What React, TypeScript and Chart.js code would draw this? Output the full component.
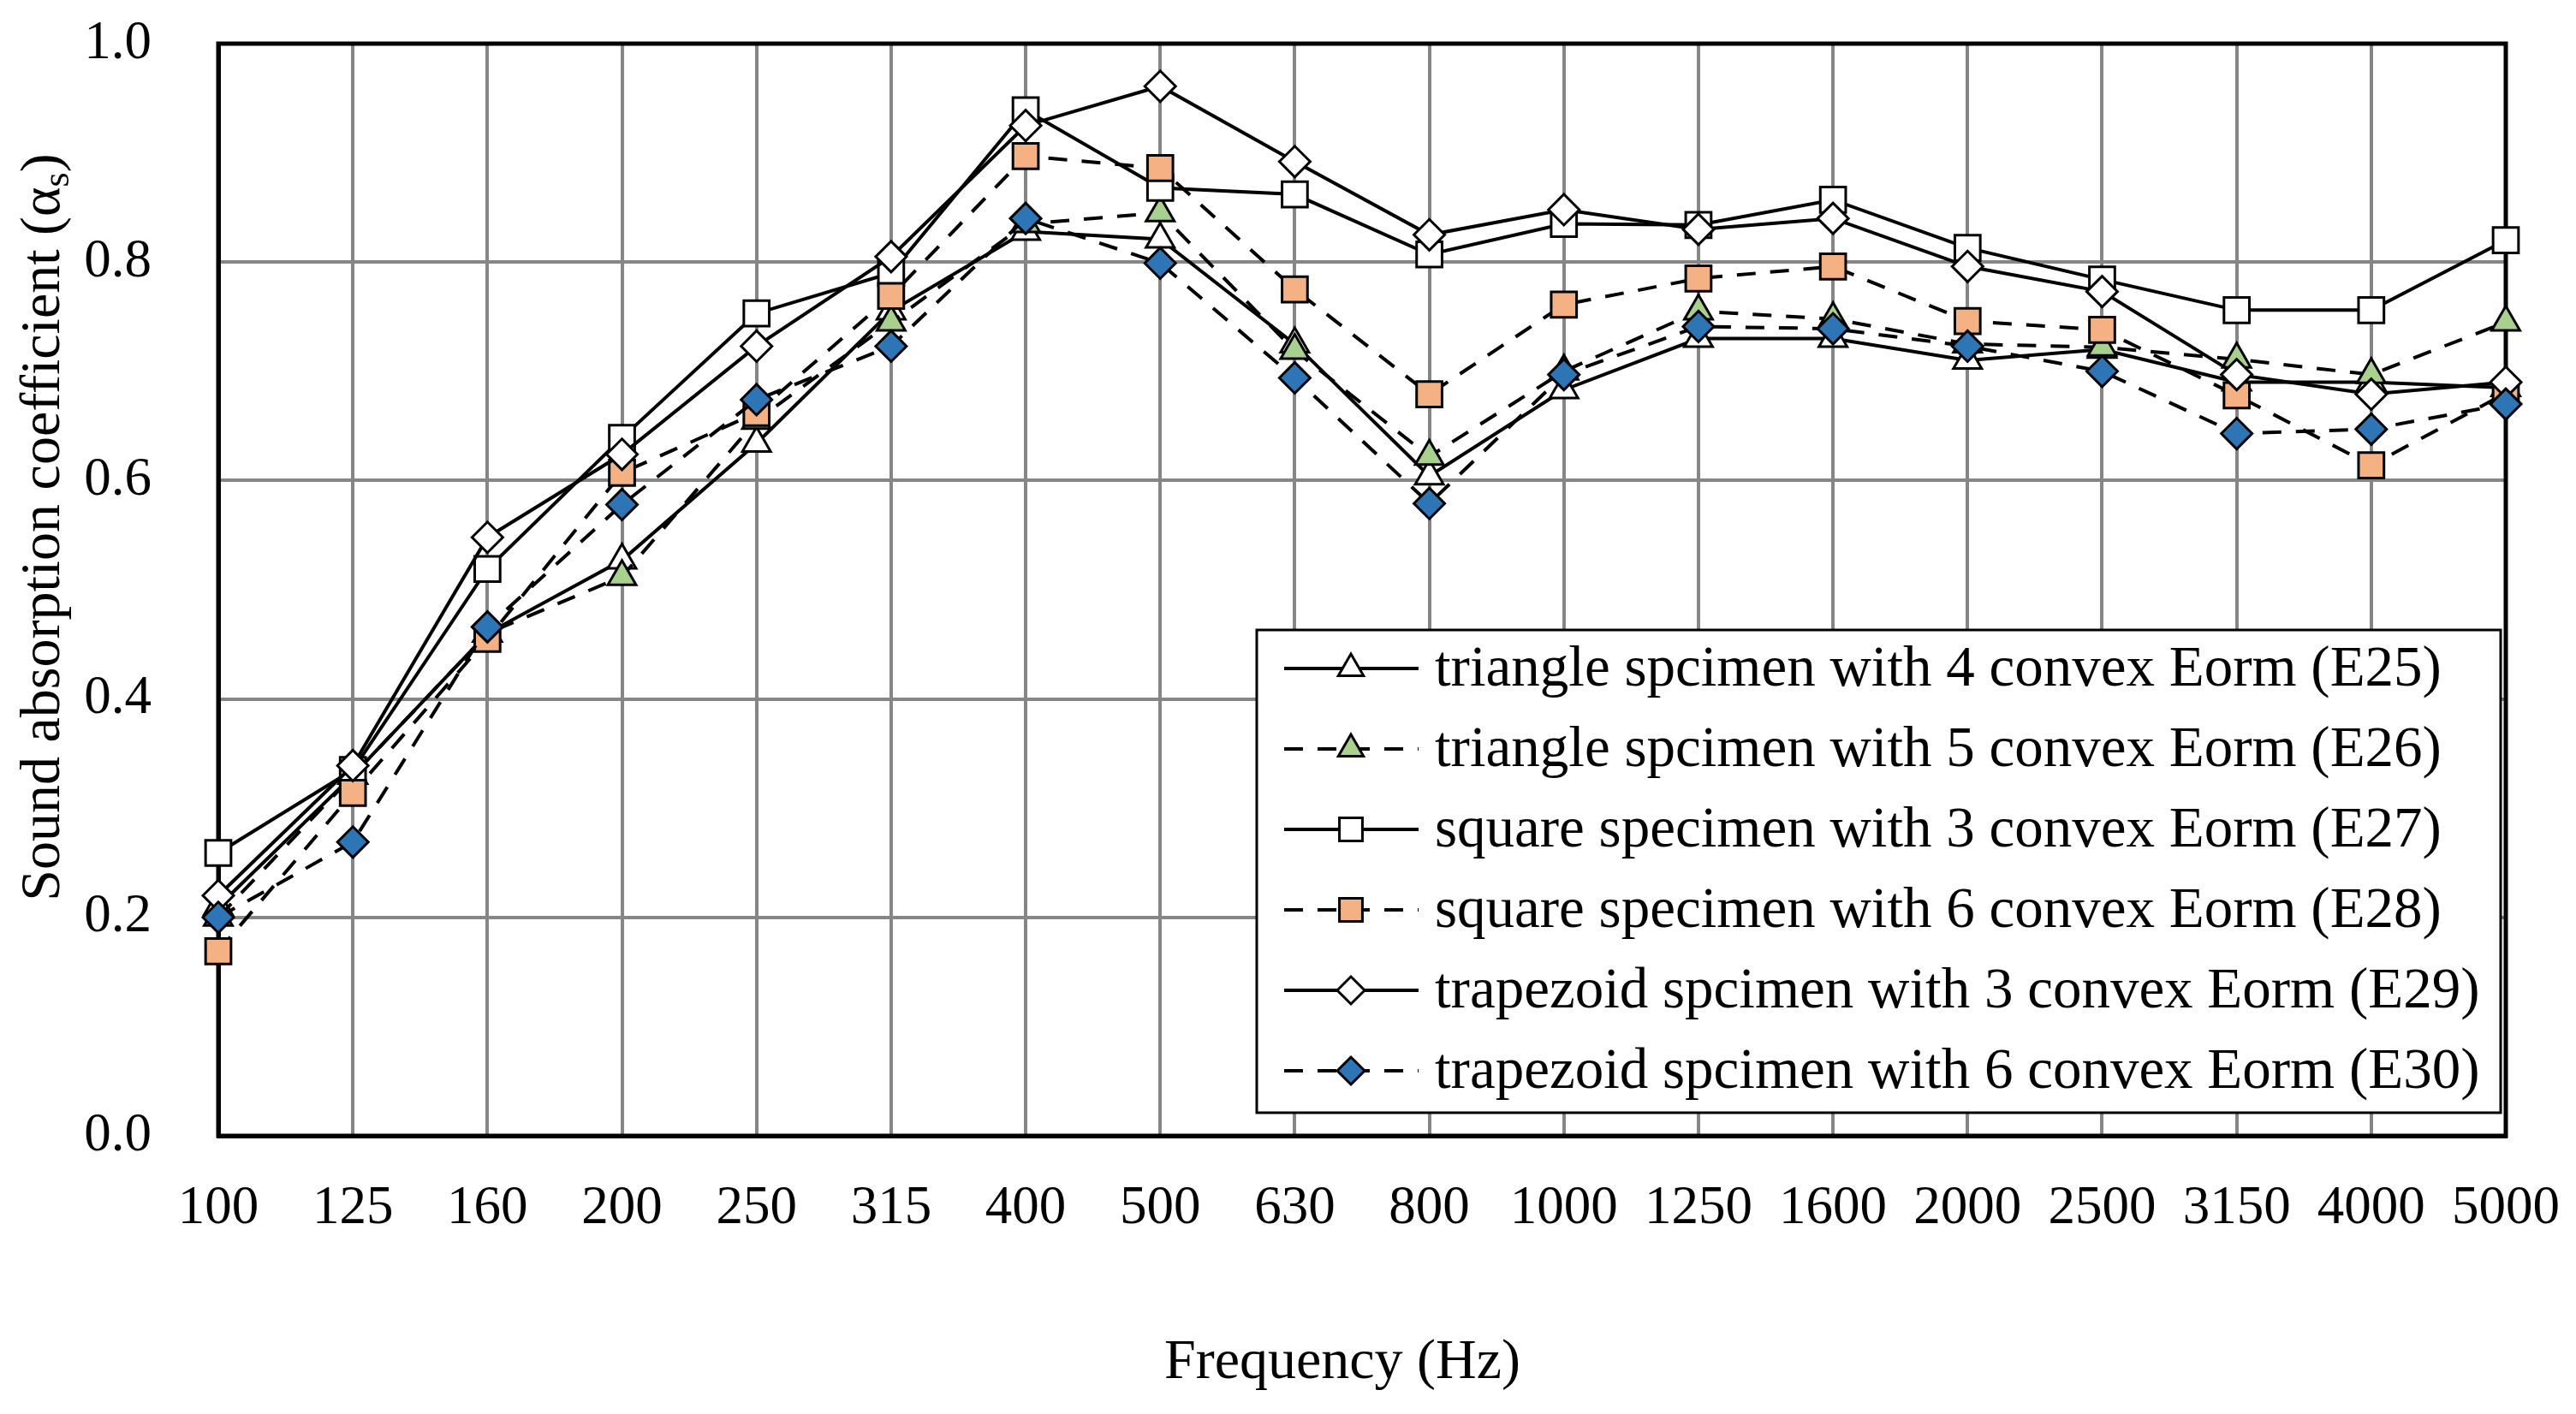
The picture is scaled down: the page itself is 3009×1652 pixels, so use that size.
import { useEffect, useRef } from "react"
import { Chart, registerables } from "chart.js"

Chart.register(...registerables)

const FONT = "'Liberation Serif', 'Times New Roman', serif"

// 1/3 octave centre frequencies
const frequencies = ["100", "125", "160", "200", "250", "315", "400", "500", "630", "800", "1000", "1250", "1600", "2000", "2500", "3150", "4000", "5000"]

// sound absorption coefficient per specimen
const e25 = [0.21, 0.33, 0.46, 0.527, 0.634, 0.755, 0.828, 0.821, 0.725, 0.604, 0.683, 0.73, 0.73, 0.71, 0.72, 0.69, 0.69, 0.685]
const e26 = [0.2, 0.33, 0.46, 0.512, 0.655, 0.745, 0.835, 0.845, 0.719, 0.622, 0.7, 0.755, 0.748, 0.725, 0.722, 0.711, 0.697, 0.745]
const e27 = [0.259, 0.335, 0.519, 0.639, 0.753, 0.79, 0.939, 0.868, 0.862, 0.807, 0.835, 0.834, 0.857, 0.813, 0.784, 0.756, 0.756, 0.82]
const e28 = [0.169, 0.314, 0.455, 0.607, 0.662, 0.769, 0.897, 0.886, 0.775, 0.679, 0.761, 0.785, 0.796, 0.746, 0.738, 0.678, 0.614, 0.68]
const e29 = [0.22, 0.339, 0.548, 0.624, 0.723, 0.805, 0.925, 0.961, 0.892, 0.825, 0.848, 0.83, 0.84, 0.796, 0.773, 0.697, 0.679, 0.69]
const e30 = [0.2, 0.269, 0.466, 0.578, 0.674, 0.723, 0.84, 0.799, 0.694, 0.579, 0.697, 0.741, 0.739, 0.723, 0.7, 0.643, 0.647, 0.67]

const yTicks = [0, 0.2, 0.4, 0.6, 0.8, 1.0]

const seriesLabels = [
  "triangle spcimen with 4 convex Eorm (E25)",
  "triangle spcimen with 5 convex Eorm (E26)",
  "square specimen with 3 convex Eorm (E27)",
  "square specimen with 6 convex Eorm (E28)",
  "trapezoid spcimen with 3 convex Eorm (E29)",
  "trapezoid spcimen with 6 convex Eorm (E30)",
]
const seriesData = [e25, e26, e27, e28, e29, e30]
const seriesMarkers = ["triangle", "triangle", "rect", "rect", "rectRot", "rectRot"]
const seriesFills = ["#ffffff", "#a9d18e", "#ffffff", "#f4b183", "#ffffff", "#2e75b6"]
const seriesDashed = [false, true, false, true, false, true]

const DASH = [22, 17]
const markerRadius = (style: string) => (style === "rect" ? 21 : style === "triangle" ? 19 : 18)

function drawMarker(ctx: CanvasRenderingContext2D, style: string, x: number, y: number, r: number) {
  ctx.beginPath()
  if (style === "triangle") {
    for (let k = 0; k < 3; k++) {
      const a = (k * 2 * Math.PI) / 3
      const px = x + Math.sin(a) * r
      const py = y - Math.cos(a) * r
      if (k === 0) ctx.moveTo(px, py)
      else ctx.lineTo(px, py)
    }
    ctx.closePath()
  } else if (style === "rect") {
    const s = r * Math.SQRT1_2
    ctx.rect(x - s, y - s, 2 * s, 2 * s)
  } else {
    ctx.moveTo(x - r, y)
    ctx.lineTo(x, y - r)
    ctx.lineTo(x + r, y)
    ctx.lineTo(x, y + r)
    ctx.closePath()
  }
  ctx.fill()
  ctx.stroke()
}

// top/right frame of the plot area (Excel style box)
const framePlugin = {
  id: "plotFrame",
  beforeDatasetsDraw(chart: Chart) {
    const { ctx, chartArea: a } = chart
    ctx.save()
    ctx.strokeStyle = "#000"
    ctx.lineWidth = 5
    ctx.strokeRect(a.left, a.top, a.right - a.left, a.bottom - a.top)
    ctx.restore()
  },
}

// legend box inside the plot, bottom right
const legendPlugin = {
  id: "insideLegend",
  afterDatasetsDraw(chart: Chart) {
    const { ctx, chartArea: a } = chart
    const left = a.right - 1459
    const top = a.bottom - 591
    const w = 1453
    const h = 564
    ctx.save()
    ctx.fillStyle = "#fff"
    ctx.fillRect(left, top, w, h)
    ctx.strokeStyle = "#000"
    ctx.lineWidth = 3
    ctx.strokeRect(left, top, w, h)

    seriesLabels.forEach((label, i) => {
      const cy = top + 45 + i * 94
      ctx.strokeStyle = "#000"
      ctx.lineWidth = 4
      ctx.setLineDash(seriesDashed[i] ? DASH : [])
      ctx.beginPath()
      ctx.moveTo(left + 32, cy)
      ctx.lineTo(left + 189, cy)
      ctx.stroke()
      ctx.setLineDash([])
      ctx.lineWidth = 3
      ctx.fillStyle = seriesFills[i]
      drawMarker(ctx, seriesMarkers[i], left + 110, cy, markerRadius(seriesMarkers[i]) - 2)

      ctx.fillStyle = "#000"
      ctx.font = `67px ${FONT}`
      ctx.textAlign = "left"
      ctx.textBaseline = "middle"
      ctx.fillText(label, left + 208, cy + 2)
    })
    ctx.restore()
  },
}

// axis titles: rotated y title with subscript, x title slightly left of centre
const axisTitlePlugin = {
  id: "axisTitles",
  afterDraw(chart: Chart) {
    const { ctx, chartArea: a } = chart
    ctx.save()
    ctx.fillStyle = "#000"

    ctx.font = `66px ${FONT}`
    ctx.textAlign = "center"
    ctx.textBaseline = "middle"
    ctx.fillText("Frequency (Hz)", (a.left + a.right) / 2 - 23, chart.height - 59)

    const main = "Sound absorption coefficient (α"
    const sub = "s"
    const close = ")"
    ctx.font = `66px ${FONT}`
    const w1 = ctx.measureText(main).width
    const w3 = ctx.measureText(close).width
    ctx.font = `44px ${FONT}`
    const w2 = ctx.measureText(sub).width
    const total = w1 + w2 + w3
    const cy = (a.top + a.bottom) / 2 - 73
    ctx.translate(52, cy)
    ctx.rotate(-Math.PI / 2)
    ctx.textAlign = "left"
    let x = -total / 2
    ctx.font = `66px ${FONT}`
    ctx.fillText(main, x, 0)
    x += w1
    ctx.font = `44px ${FONT}`
    ctx.fillText(sub, x, 16)
    x += w2
    ctx.font = `66px ${FONT}`
    ctx.fillText(close, x, 0)
    ctx.restore()
  },
}

export default function App() {
  const chartRef = useRef<HTMLCanvasElement>(null)
  const chartInstance = useRef<Chart | null>(null)

  useEffect(() => {
    document.body.style.margin = "0"
    if (!chartRef.current) return
    const ctx = chartRef.current.getContext("2d")
    if (!ctx) return

    chartInstance.current = new Chart(ctx, {
      type: "line",
      data: {
        labels: frequencies,
        datasets: seriesData.map((data, i) => ({
          label: seriesLabels[i],
          data,
          borderColor: "#000",
          borderWidth: 4,
          borderDash: seriesDashed[i] ? DASH : [],
          tension: 0,
          fill: false,
          pointStyle: seriesMarkers[i] as any,
          pointRadius: markerRadius(seriesMarkers[i]),
          pointBackgroundColor: seriesFills[i],
          pointBorderColor: "#000",
          pointBorderWidth: 3,
          order: 5 - i,
        })),
      },
      options: {
        animation: false,
        responsive: true,
        maintainAspectRatio: false,
        devicePixelRatio: 1,
        layout: { padding: { top: 51, right: 82, left: 0, bottom: 0 } },
        plugins: {
          legend: { display: false },
          tooltip: { enabled: false },
        },
        scales: {
          x: {
            offset: false,
            afterFit: (s: any) => {
              s.height = 325
              s.paddingLeft = 0
              s.paddingRight = 0
            },
            ticks: {
              color: "#000",
              font: { family: FONT, size: 63 },
              padding: 48,
              maxRotation: 0,
              autoSkip: false,
            },
            grid: { color: "#868686", lineWidth: 4, drawTicks: false, offset: false },
            border: { color: "#000", width: 5 },
            title: { display: false },
          },
          y: {
            min: 0,
            max: 1,
            afterFit: (s: any) => {
              s.width = 255
              s.paddingTop = 0
              s.paddingBottom = 0
            },
            afterBuildTicks: (s: any) => {
              s.ticks = yTicks.map((v) => ({ value: v }))
            },
            ticks: {
              color: "#000",
              font: { family: FONT, size: 63 },
              padding: 78,
              callback: (v) => Number(v).toFixed(1),
            },
            grid: { color: "#868686", lineWidth: 4, drawTicks: false },
            border: { color: "#000", width: 5 },
          },
        },
      },
      plugins: [framePlugin, legendPlugin, axisTitlePlugin],
    })

    return () => {
      chartInstance.current?.destroy()
    }
  }, [])

  return (
    <div style={{ width: "3009px", height: "1652px", position: "relative", background: "#fff" }}>
      <canvas ref={chartRef} />
    </div>
  )
}
